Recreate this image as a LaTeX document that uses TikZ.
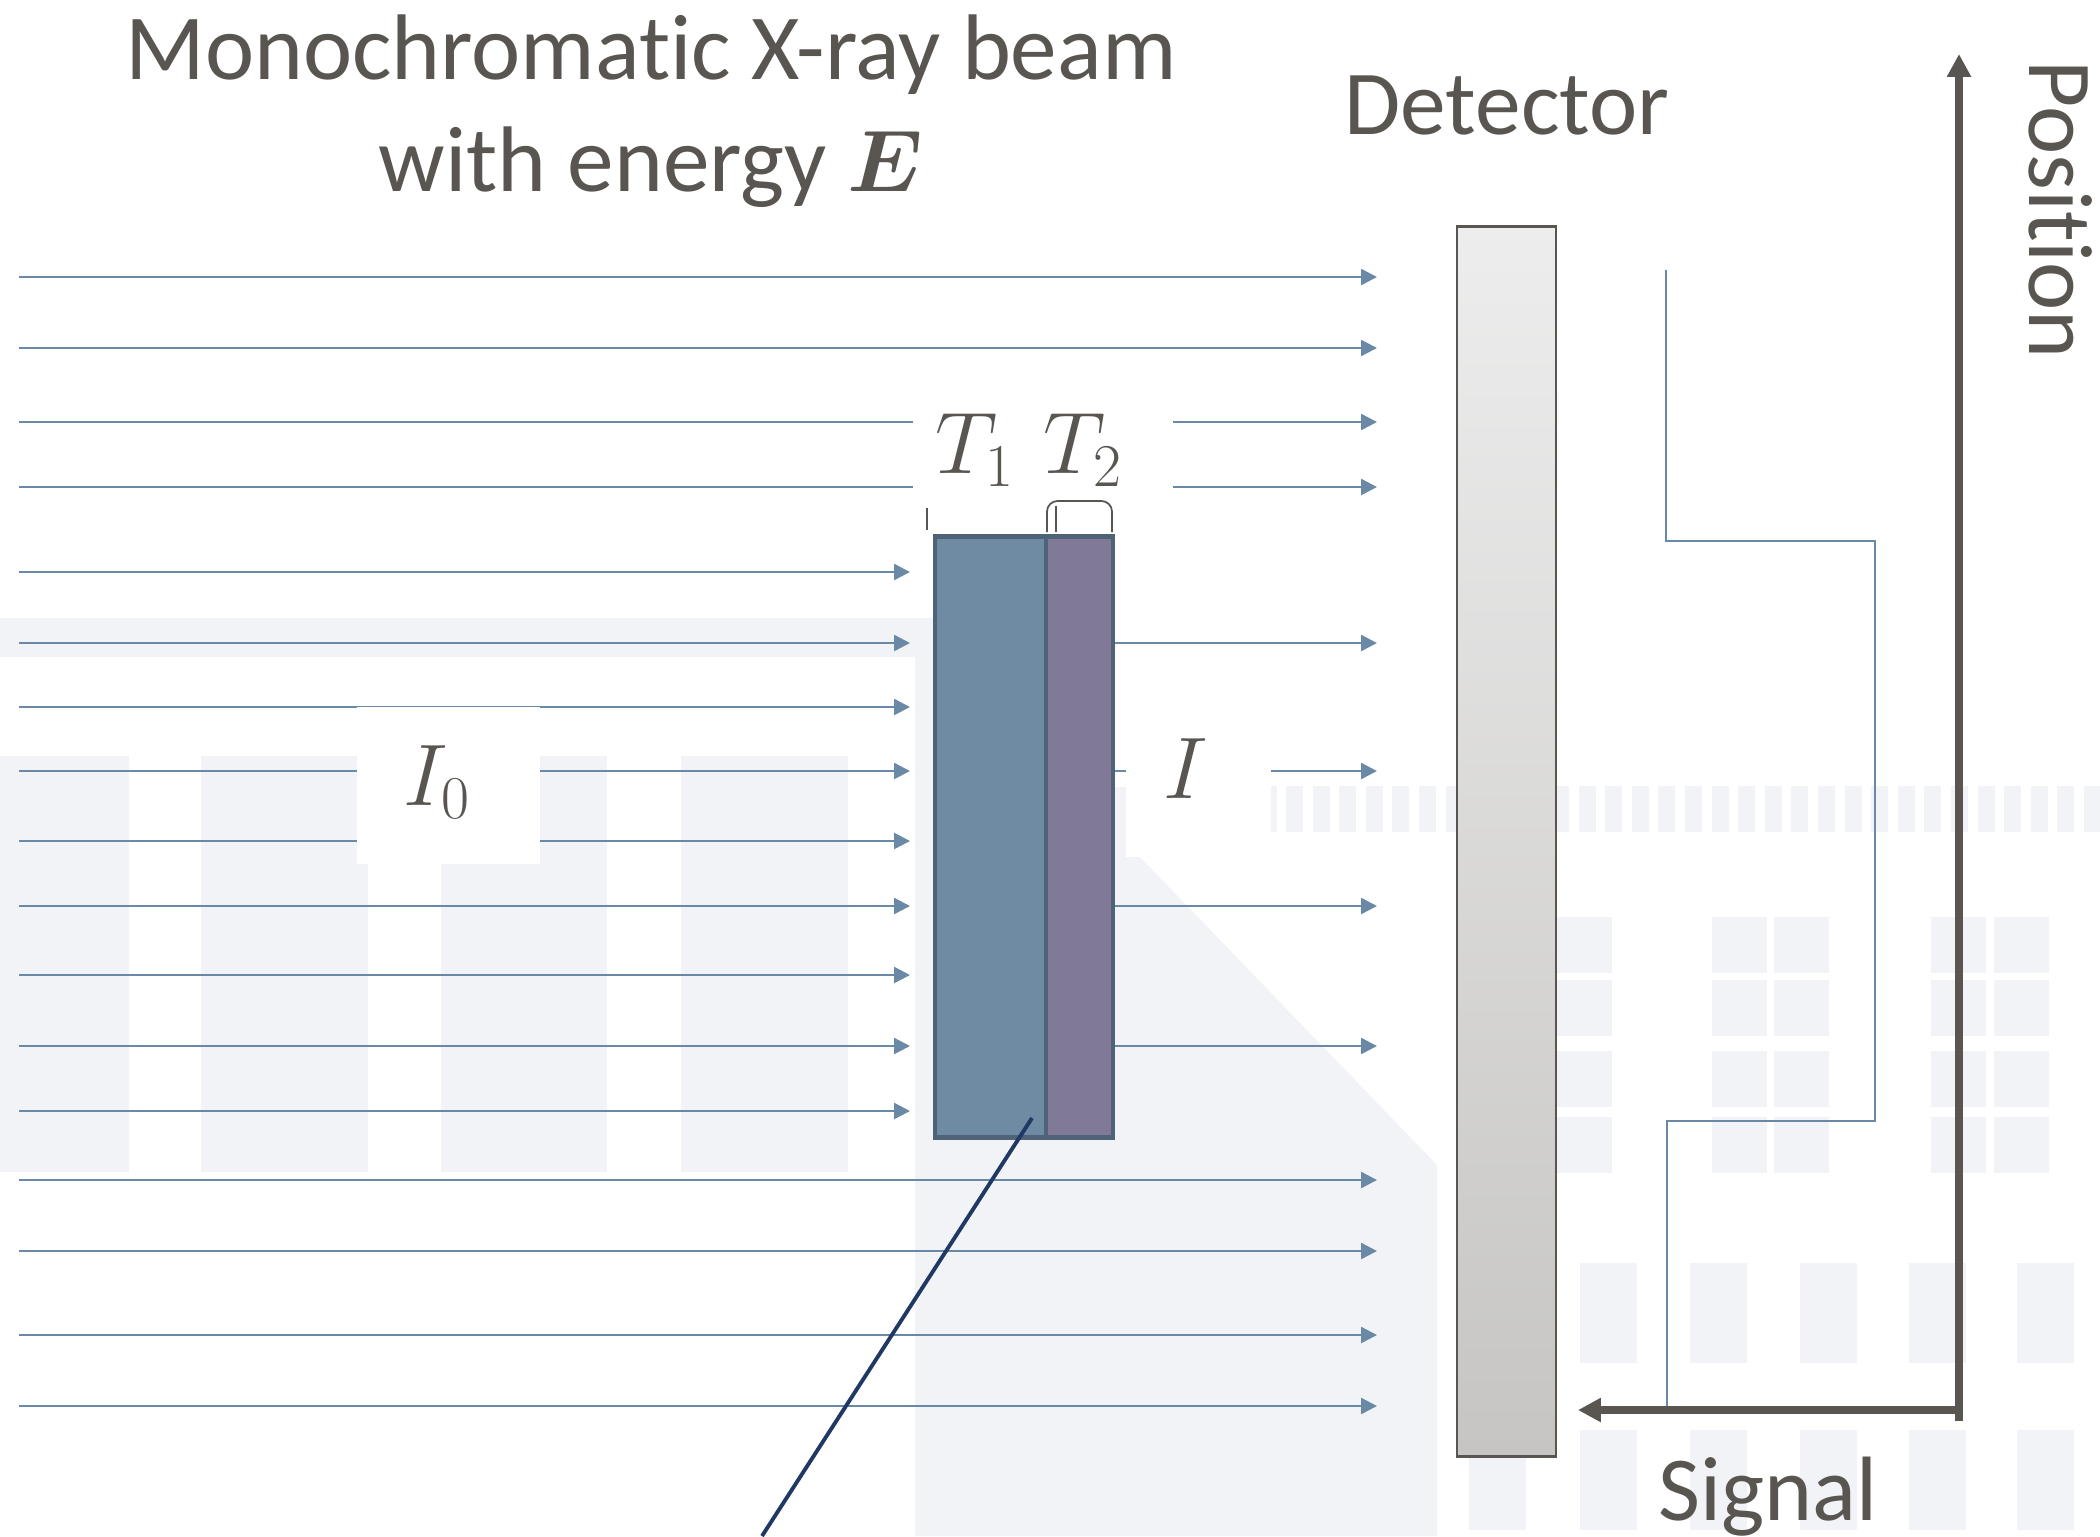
\documentclass[tikz,border=0pt]{standalone}
\usepackage{amsmath}
\usepackage{fontspec}
\setmainfont{Carlito}[Ligatures={TeX,NoCommon}]
\usepackage{tikz}
\usetikzlibrary{arrows.meta}
\definecolor{textgray}{RGB}{89,85,80}
\definecolor{beamblue}{RGB}{106,137,166}
\definecolor{layerA}{RGB}{111,139,163}
\definecolor{layerB}{RGB}{129,122,151}
\definecolor{sampleedge}{RGB}{79,99,120}
\definecolor{pointerblue}{RGB}{31,56,100}
\definecolor{wmark}{RGB}{242,243,246}
\definecolor{dettop}{RGB}{237,237,237}
\definecolor{detbottom}{RGB}{198,197,195}

\begin{document}
\begin{tikzpicture}[x=0.01cm, y=-0.01cm,
    beam/.style={beamblue, line width=0.7pt, -{Triangle[length=4.5pt,width=4.5pt]}},
    axisline/.style={textgray, line width=2.2pt, -{Triangle[length=6.5pt,width=6.5pt]}},
    txt/.style={text=textgray, font=\fontsize{26}{31}\selectfont, inner sep=0pt},
    layer/.style={draw=sampleedge, line width=1.4pt, inner sep=0pt, minimum height=6cm},
    wm/.style={fill=wmark}]
    \useasboundingbox (0,0) rectangle (2100,1536);

    % Hình mờ phía sau
    \fill[wm] (0,618) -- (1113,618) -- (1113,787) -- (1126,787) -- (1126,857) -- (1140,857)
        -- (1437,1165) -- (1437,1536) -- (915,1536) -- (915,657) -- (0,657) -- cycle;
    \foreach \x/\w in {0/129,201/167,441/166,681/167}
        \fill[wm] (\x,756) rectangle ++(\w,416);
    % Dải sọc và cửa sổ
    \fill[wm] (1270,786) rectangle (1277,832);
    \foreach \i in {0,...,30}
        \fill[wm] ({1286+26.6*\i},786) rectangle ++(17,46);
    \foreach \x in {1497,1557,1712,1774,1931,1994}
        \foreach \y in {917,980,1051,1117}
            \fill[wm] (\x,\y) rectangle ++(55,56);
    \foreach \x in {1580,1690,1800,1909,2017}
        \fill[wm] (\x,1263) rectangle ++(57,100);
    \foreach \x in {1469,1580,1690,1800,1909,2017}
        \fill[wm] (\x,1430) rectangle ++(57,100);

    % Chùm tia tới
    \foreach \y in {277,348,422,487,1180,1251,1335,1406}
        \draw[beam] (19,\y) -- (1377,\y);
    \foreach \y in {572,643,707,771,841,906,975,1046,1111}
        \draw[beam] (19,\y) -- (910,\y);

    % Mẫu hai lớp
    \node[layer, fill=layerA, minimum width=1.11cm] (t1box) at (990.5,837) {};
    \node[layer, fill=layerB, minimum width=0.67cm] (t2box) at (1079.5,837) {};
    % Chùm tia truyền qua
    \foreach \y in {643,771,906,1046}
        \draw[beam] (t2box.east |- 0,\y) -- (1377,\y);

    % Nền trắng cho nhãn
    \fill[white] (913,392) rectangle (1173,534);
    \fill[white] (357,707) rectangle (540,864);
    \fill[white] (1126,690) rectangle (1271,857);

    % Nhãn độ dày
    \node[txt, anchor=base] (tone) at (975,473) {$T_1$};
    \node[txt, anchor=base] (ttwo) at (1083,473) {$T_2$};
    \draw[textgray, line width=0.5pt] (927,508) -- (927,530);
    \draw[textgray, line width=0.5pt, rounded corners=3] (1047,532) -- (1047,501) -- (1112,501) -- (1112,532);
    \draw[textgray, line width=0.5pt] (1056,506) -- (1056,532);

    % Cường độ
    \node[txt, anchor=base] (izero) at (437,805) {$I_0$};
    \node[txt, anchor=base] (iout) at (1186,798) {$I$};

    % Đường chỉ
    \coordinate (ptr) at (762,1536);
    \draw[pointerblue, line width=1.1pt] (1032,1118) -- (ptr);

    % Đầu dò
    \node[draw=textgray, line width=0.8pt, top color=dettop, bottom color=detbottom,
        inner sep=0pt, minimum width=0.99cm, minimum height=12.29cm] (detector) at (1506.5,841.5) {};
    \node[txt, anchor=base] (dettext) at (1507,134) {Detector};

    % Đường tín hiệu
    \draw[beamblue, line width=0.5pt] (1666,270) |- (1875,541) |- (1667,1121) -- (1667,1410);

    % Trục
    \coordinate (origin) at (1959,1421);
    \coordinate (postop) at (1959,54);
    \coordinate (sigtip) at (1578,1410);
    \draw[axisline] (origin) -- (postop);
    \draw[axisline] (1959,1410) -- (sigtip);
    \node[txt, anchor=base] (sig) at (1768,1520) {Signal};
    \node[txt, anchor=base, rotate=-90] (pos) at (2029,210) {Position};

    % Tiêu đề
    \node[txt, anchor=base, font=\fontsize{26.5}{31}\selectfont] (title1) at (651,79) {Monochromatic X-ray beam};
    \node[txt, anchor=base, font=\fontsize{26.5}{31}\selectfont] (title2) at (651,191) {with energy $\boldsymbol{E}$};
\end{tikzpicture}
\end{document}
